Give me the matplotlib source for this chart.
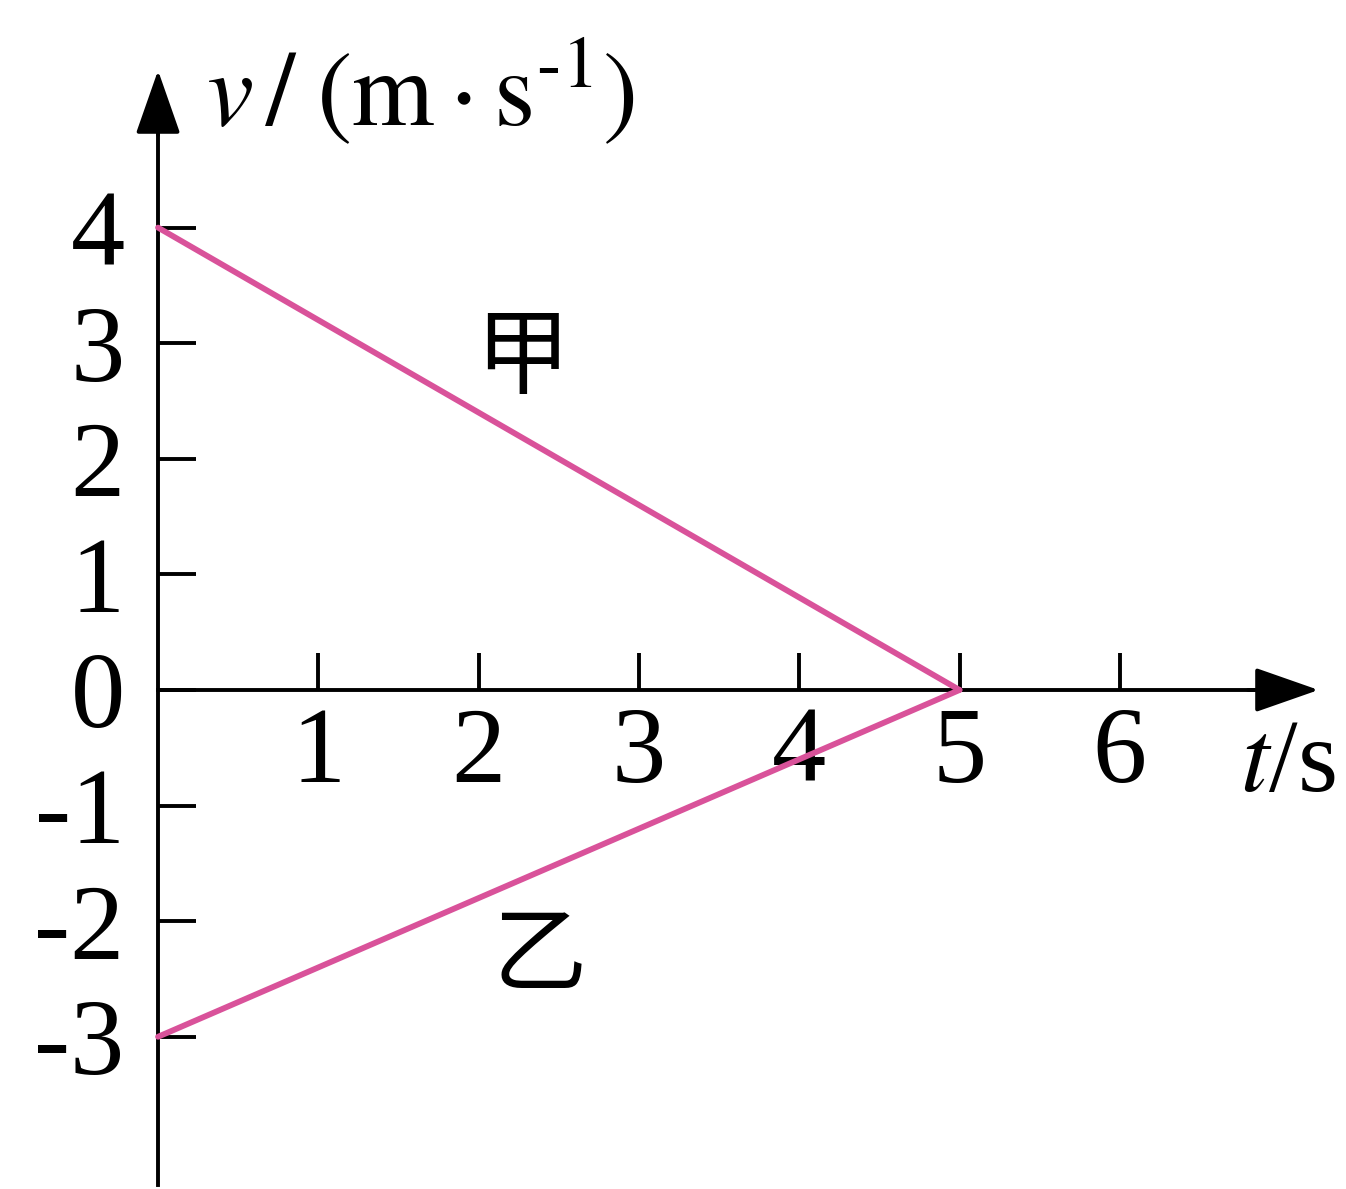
import matplotlib.pyplot as plt

plt.rcParams['font.family'] = ['Liberation Serif', 'Noto Sans CJK SC']
plt.rcParams['mathtext.fontset'] = 'stix'
plt.rcParams['axes.unicode_minus'] = False

# v-t data for the two objects
t_jia = [0, 5]
v_jia = [4, 0]
t_yi = [0, 5]
v_yi = [-3, 0]

x_ticks = [1, 2, 3, 4, 5, 6]
y_ticks = [-3, -2, -1, 0, 1, 2, 3, 4]

line_color = '#d9529a'

fig = plt.figure(figsize=(13.46, 11.89), dpi=100)
ax = fig.add_axes([0, 0, 1, 1])
ax.set_xlim(-0.986, 7.411)
ax.set_ylim(-4.317, 5.969)

ax.plot(t_jia, v_jia, color=line_color, lw=4.2, solid_capstyle='round', zorder=3)
ax.plot(t_yi, v_yi, color=line_color, lw=4.2, solid_capstyle='round', zorder=3)

# axes through the origin
for side in ['top', 'right']:
    ax.spines[side].set_visible(False)
ax.spines['left'].set_position(('data', 0))
ax.spines['bottom'].set_position(('data', 0))
ax.spines['left'].set_bounds(-4.28, 5.0)
ax.spines['bottom'].set_bounds(0, 6.95)
for side in ['left', 'bottom']:
    ax.spines[side].set_linewidth(2.8)
    ax.spines[side].set_color('black')

head = '-|>,head_length=4.0,head_width=1.4'
ax.annotate('', xy=(0, 5.36), xytext=(0, 4.8),
            arrowprops=dict(arrowstyle=head, color='black', lw=2.8,
                            shrinkA=0, shrinkB=0))
ax.annotate('', xy=(7.24, 0), xytext=(6.8, 0),
            arrowprops=dict(arrowstyle=head, color='black', lw=2.8,
                            shrinkA=0, shrinkB=0))

ax.set_xticks(x_ticks)
ax.set_xticklabels([str(v) for v in x_ticks])
ax.set_yticks(y_ticks)
ax.set_yticklabels([str(v) for v in y_ticks])
ax.tick_params(axis='both', direction='in', length=27, width=2.8, labelsize=78)
ax.tick_params(axis='x', pad=12)
ax.tick_params(axis='y', pad=24)

ax.text(0.30, 4.89, r'$v\,/\;(\mathrm{m}\cdot\mathrm{s}^{\text{-}1})$', fontsize=76,
        ha='left', va='baseline')
ax.text(6.75, -0.87, r'$t$/s', fontsize=74, ha='left', va='baseline')

ax.text(2.27, 2.86, '甲', fontsize=68, ha='center', va='center',
        family=['Noto Sans CJK SC', 'DejaVu Sans'])
ax.text(2.38, -2.31, '乙', fontsize=68, ha='center', va='center',
        family=['Noto Sans CJK SC', 'DejaVu Sans'])

fig.savefig('out.png', dpi=100)
